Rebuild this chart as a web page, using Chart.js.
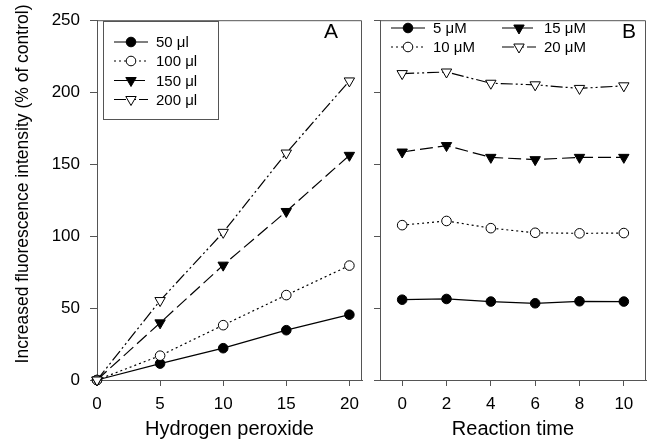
<!DOCTYPE html>
<html>
<head>
<meta charset="utf-8">
<script src="https://cdn.jsdelivr.net/npm/chart.js@4.4.1/dist/chart.umd.min.js"></script>
<style>
body { margin: 0; background: #fff; }
#wrap { position: relative; width: 653px; height: 441px; }
canvas { position: absolute; top: 0; }
#chart-A { left: 0; }
#chart-B { left: 366px; }
</style>
</head>
<body>
<div id="wrap">
<canvas id="chart-A" width="372" height="441"></canvas>
<canvas id="chart-B" width="287" height="441"></canvas>
</div>
<script>
// panel A: hydrogen peroxide
var peroxideLevels = [0, 5, 10, 15, 20];
var peroxideTicks = [0, 5, 10, 15, 20];
var vol50 = [0, 11.4, 22.1, 34.6, 45.4];
var vol100 = [0, 16.9, 38.1, 59.0, 79.5];
var vol150 = [0, 39.7, 79.8, 117.1, 156.1];
var vol200 = [0, 55.2, 102.6, 157.7, 207.8];
var volLabels = ['50 \u03bcl', '100 \u03bcl', '150 \u03bcl', '200 \u03bcl'];

// panel B: reaction time
var reactionTimes = [0, 2, 4, 6, 8, 10];
var timeTicks = [0, 2, 4, 6, 8, 10];
var conc5 = [55.8, 56.3, 54.5, 53.3, 54.7, 54.5];
var conc10 = [107.6, 110.5, 105.5, 102.3, 101.9, 102.1];
var conc15 = [158.4, 162.9, 154.7, 153.1, 154.7, 154.7];
var conc20 = [212.9, 214.0, 206.2, 205.1, 202.6, 204.4];
var concLabels = ['5 \u03bcM', '10 \u03bcM', '15 \u03bcM', '20 \u03bcM'];

var intensityTicks = [0, 50, 100, 150, 200, 250];

var axisColor = '#555';
var fontName = '"Liberation Sans", Arial, sans-serif';

var markerStyles = [
    { pointStyle: 'circle', rotation: 0, radius: 4.8, fill: '#000', dash: [] },
    { pointStyle: 'circle', rotation: 0, radius: 4.8, fill: '#fff', dash: [2, 3] },
    { pointStyle: 'triangle', rotation: 180, radius: 6, fill: '#000', dash: [13, 5] },
    { pointStyle: 'triangle', rotation: 180, radius: 6, fill: '#fff', dash: [12, 3, 2, 3, 2, 3] }
];

function makeSet(label, xs, ys, i) {
    var st = markerStyles[i];
    return {
        label: label,
        data: xs.map(function (x, k) { return { x: x, y: ys[k] }; }),
        borderColor: '#000',
        borderWidth: 1.2,
        borderDash: st.dash,
        pointStyle: st.pointStyle,
        pointRotation: st.rotation,
        pointRadius: st.radius,
        pointBackgroundColor: st.fill,
        pointBorderColor: '#000',
        pointBorderWidth: 1,
        clip: false,
        order: 3 - i
    };
}

// frame, panel letter, legend, y title
var panelDeco = {
    id: 'panelDeco',
    afterDraw: function (chart, args, opts) {
        var ctx = chart.ctx;
        var a = chart.chartArea;
        ctx.save();
        ctx.strokeStyle = axisColor;
        ctx.lineWidth = 1;
        ctx.setLineDash([]);
        ctx.beginPath();
        ctx.moveTo(a.left, a.top + 0.5);
        ctx.lineTo(a.right - 0.5, a.top + 0.5);
        ctx.lineTo(a.right - 0.5, a.bottom);
        ctx.stroke();

        ctx.fillStyle = '#000';
        ctx.font = '21px ' + fontName;
        ctx.textAlign = 'left';
        ctx.textBaseline = 'alphabetic';
        ctx.fillText(opts.letter, opts.letterX, opts.letterY);

        if (opts.box) {
            ctx.strokeStyle = axisColor;
            ctx.strokeRect(opts.box[0] + 0.5, opts.box[1] + 0.5, opts.box[2], opts.box[3]);
        }

        ctx.font = '15px ' + fontName;
        ctx.textBaseline = 'middle';
        chart.data.datasets.forEach(function (ds, i) {
            var p = opts.items[i];
            ctx.strokeStyle = '#000';
            ctx.lineWidth = 1.2;
            ctx.setLineDash(ds.borderDash);
            ctx.beginPath();
            ctx.moveTo(p[0], p[1]);
            ctx.lineTo(p[0] + 34, p[1]);
            ctx.stroke();
            ctx.setLineDash([]);
            ctx.lineWidth = 1;
            ctx.fillStyle = ds.pointBackgroundColor;
            Chart.helpers.drawPoint(ctx, {
                pointStyle: ds.pointStyle,
                rotation: ds.pointRotation,
                radius: ds.pointRadius,
                borderWidth: 1
            }, p[0] + 17, p[1]);
            ctx.fillStyle = '#000';
            ctx.fillText(ds.label, p[0] + 42, p[1] + 1);
        });

        if (opts.yTitle) {
            ctx.translate(opts.yTitle.x, opts.yTitle.y);
            ctx.rotate(-Math.PI / 2);
            ctx.font = '17.5px ' + fontName;
            ctx.textAlign = 'center';
            ctx.textBaseline = 'middle';
            ctx.fillText(opts.yTitle.text, 0, 0);
        }
        ctx.restore();
    }
};

function xScale(min, max, ticks, title) {
    return {
        type: 'linear',
        min: min,
        max: max,
        afterBuildTicks: function (scale) {
            scale.ticks = ticks.map(function (v) { return { value: v }; });
        },
        afterFit: function (scale) { scale.height = 61; },
        grid: { drawOnChartArea: false, tickLength: 6, color: axisColor },
        border: { display: true, color: axisColor },
        ticks: { color: '#000', font: { family: fontName, size: 17 }, padding: 8, maxRotation: 0 },
        title: { display: true, text: title, color: '#000', font: { family: fontName, size: 20 }, padding: { top: 0, bottom: 0 } }
    };
}

function yScale(width, showLabels) {
    return {
        type: 'linear',
        min: 0,
        max: 250,
        afterBuildTicks: function (scale) {
            scale.ticks = intensityTicks.map(function (v) { return { value: v }; });
        },
        afterFit: function (scale) { scale.width = width; },
        grid: { drawOnChartArea: false, tickLength: showLabels ? 7 : 6, color: axisColor },
        border: { display: true, color: axisColor },
        ticks: {
            color: '#000',
            font: { family: fontName, size: 17 },
            padding: 10,
            callback: function (v) { return showLabels ? String(v) : ''; }
        }
    };
}

var baseOptions = function (padRight, xs, ys, deco) {
    return {
        responsive: false,
        animation: false,
        layout: { padding: { top: 13, right: padRight, bottom: 0, left: 0 } },
        scales: { x: xs, y: ys },
        plugins: { legend: { display: false }, tooltip: { enabled: false }, panelDeco: deco }
    };
};

var ctxA = document.getElementById('chart-A').getContext('2d');
var chartA = new Chart(ctxA, {
    type: 'line',
    data: {
        datasets: [
            makeSet(volLabels[0], peroxideLevels, vol50, 0),
            makeSet(volLabels[1], peroxideLevels, vol100, 1),
            makeSet(volLabels[2], peroxideLevels, vol150, 2),
            makeSet(volLabels[3], peroxideLevels, vol200, 3)
        ]
    },
    options: baseOptions(10,
        xScale(0, 21, peroxideTicks, 'Hydrogen peroxide'),
        yScale(97, true),
        {
            letter: 'A', letterX: 324, letterY: 38,
            box: [103, 21, 115, 98],
            items: [[114, 42], [114, 61], [114, 80.5], [114, 99.5]],
            yTitle: { text: 'Increased fluorescence intensity (% of control)', x: 23, y: 184 }
        }),
    plugins: [panelDeco]
});

var ctxB = document.getElementById('chart-B').getContext('2d');
var chartB = new Chart(ctxB, {
    type: 'line',
    data: {
        datasets: [
            makeSet(concLabels[0], reactionTimes, conc5, 0),
            makeSet(concLabels[1], reactionTimes, conc10, 1),
            makeSet(concLabels[2], reactionTimes, conc15, 2),
            makeSet(concLabels[3], reactionTimes, conc20, 3)
        ]
    },
    options: baseOptions(4,
        xScale(-1, 11, timeTicks, 'Reaction time'),
        yScale(14, false),
        {
            letter: 'B', letterX: 622 - 366, letterY: 38,
            box: null,
            items: [[391 - 366, 28], [391 - 366, 47], [502 - 366, 28], [502 - 366, 47]]
        }),
    plugins: [panelDeco]
});
</script>
</body>
</html>
